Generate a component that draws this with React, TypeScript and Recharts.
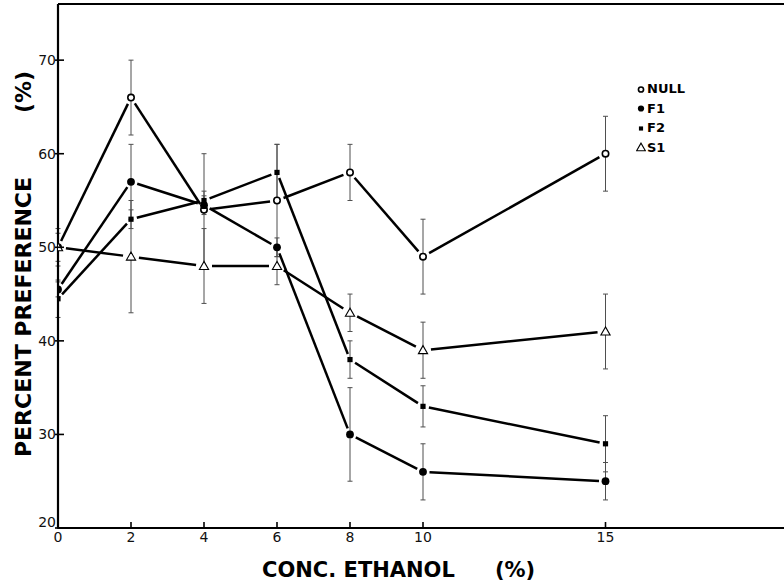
import React from 'react';
import { LineChart, Line, XAxis, YAxis, ErrorBar, Legend, Label } from 'recharts';

// ---- data ----
const conc = [0, 2, 4, 6, 8, 10, 15];
const nullVals = [50, 66, 54, 55, 58, 49, 60];
const nullErr = [2, 4, 6, 6, 3, 4, 4];
const f1Vals = [45.5, 57, 54.5, 50, 30, 26, 25];
const f1Err = [0.8, 4, 1, 1, 5, 3, 2];
const f2Vals = [44.5, 53, 55, 58, 38, 33, 29];
const f2Err = [2, 1, 1, 3, 2, 2.2, 3];
const s1Vals = [50, 49, 48, 48, 43, 39, 41];
const s1Err = [1.5, 6, 4, 2, 2, 3, 4];
const xTicks = [0, 2, 4, 6, 8, 10, 15];
const yTicks = [20, 30, 40, 50, 60, 70];
const seriesNames = ['NULL', 'F1', 'F2', 'S1'];

const data = conc.map((c, i) => ({
  x: c,
  nul: nullVals[i], nulE: nullErr[i],
  f1: f1Vals[i], f1E: f1Err[i],
  f2: f2Vals[i], f2E: f2Err[i],
  s1: s1Vals[i], s1E: s1Err[i],
}));

const FONT = '"DejaVu Sans", sans-serif';

type Shape = 'openCircle' | 'dot' | 'square' | 'triangle';
const series: { key: string; err: string; shape: Shape; name: string }[] = [
  { key: 'nul', err: 'nulE', shape: 'openCircle', name: seriesNames[0] },
  { key: 'f1', err: 'f1E', shape: 'dot', name: seriesNames[1] },
  { key: 'f2', err: 'f2E', shape: 'square', name: seriesNames[2] },
  { key: 's1', err: 's1E', shape: 'triangle', name: seriesNames[3] },
];

// gap left between a connecting line and the marker centre (old drafting style)
const GAP: Record<Shape, number> = { openCircle: 7, dot: 6.5, square: 6, triangle: 8 };

const Marker = ({ cx, cy, shape, scale = 1 }: any) => {
  if (cx == null || cy == null) return null;
  if (shape === 'openCircle')
    return <circle cx={cx} cy={cy} r={3.2 * scale} fill="#fff" stroke="#000" strokeWidth={1.6} />;
  if (shape === 'dot') return <circle cx={cx} cy={cy} r={3.9 * scale} fill="#000" />;
  if (shape === 'square') {
    const h = 2.6 * scale;
    return <rect x={cx - h} y={cy - h} width={2 * h} height={2 * h} fill="#000" />;
  }
  const s = 4.6 * scale;
  return (
    <polygon
      points={`${cx},${cy - s} ${cx - s},${cy + s * 0.75} ${cx + s},${cy + s * 0.75}`}
      fill="#fff"
      stroke="#000"
      strokeWidth={1.1}
    />
  );
};

// draws the connecting segment from the previous library-computed point to this one,
// stopped short of both markers
const Segment = ({ index, points, shape }: any) => {
  if (!points || !index) return null;
  const a = points[index - 1];
  const b = points[index];
  if (!a || !b || a.y == null || b.y == null) return null;
  const dx = b.x - a.x;
  const dy = b.y - a.y;
  const len = Math.hypot(dx, dy);
  const g = GAP[shape as Shape];
  if (len <= 2 * g) return null;
  const ux = dx / len;
  const uy = dy / len;
  return (
    <line
      x1={a.x + ux * g}
      y1={a.y + uy * g}
      x2={b.x - ux * g}
      y2={b.y - uy * g}
      stroke="#000"
      strokeWidth={2.5}
      strokeLinecap="butt"
    />
  );
};

const YTick = ({ x, y, payload }: any) => (
  <g>
    <line x1={x - 3} x2={x + 6} y1={y} y2={y} stroke="#000" strokeWidth={1.6} />
    <text
      x={x - 2}
      y={y}
      dy={payload.value === 20 ? -1 : 5}
      textAnchor="end"
      fontFamily={FONT}
      fontSize={14}
      fill="#111"
    >
      {payload.value}
    </text>
  </g>
);

const XTick = ({ x, y, payload }: any) => (
  <g>
    <line x1={x} x2={x} y1={y - 6} y2={y + 1} stroke="#000" strokeWidth={1.6} />
    <text x={x} y={y + 14} textAnchor="middle" fontFamily={FONT} fontSize={14} fill="#111">
      {payload.value}
    </text>
  </g>
);

const YTitle = () => (
  <g fontFamily={FONT} fontWeight="bold" fill="#000">
    <text x={31} y={317} transform="rotate(-90 31 317)" textAnchor="middle" fontSize={22}>
      PERCENT PREFERENCE
    </text>
    <text x={31} y={92} transform="rotate(-90 31 92)" textAnchor="middle" fontSize={22}>
      (%)
    </text>
  </g>
);

const XTitle = () => (
  <g fontFamily={FONT} fontWeight="bold" fill="#000">
    <text x={262} y={577} textAnchor="start" fontSize={21}>
      CONC. ETHANOL
    </text>
    <text x={515} y={577} textAnchor="middle" fontSize={21}>
      (%)
    </text>
  </g>
);

const LegendContent = () => (
  <div style={{ fontFamily: FONT, fontWeight: 'bold', fontSize: 13, color: '#000', lineHeight: '19.5px' }}>
    {series.map((s) => (
      <div key={s.name} style={{ display: 'flex', alignItems: 'center', whiteSpace: 'nowrap' }}>
        <svg width={10} height={12} style={{ marginRight: 1 }}>
          <Marker cx={5} cy={6.5} shape={s.shape} scale={s.shape === 'triangle' ? 0.95 : 0.8} />
        </svg>
        <span>{s.name}</span>
      </div>
    ))}
  </div>
);

export default function App() {
  return (
    <div style={{ position: 'absolute', left: 0, top: 0, width: 784, height: 584, overflow: 'hidden', background: '#fff' }}>
      <LineChart width={788} height={584} data={data} margin={{ top: 0, right: 0, bottom: 0, left: 0 }}>
        <XAxis
          dataKey="x"
          type="number"
          domain={[0, 20]}
          ticks={xTicks}
          height={56}
          tickSize={0}
          tickMargin={0}
          tickLine={false}
          tick={<XTick />}
          axisLine={{ stroke: '#000', strokeWidth: 2.2 }}
          allowDataOverflow
        >
          <Label content={<XTitle />} />
        </XAxis>
        <XAxis
          xAxisId="top"
          orientation="top"
          dataKey="x"
          type="number"
          domain={[0, 20]}
          height={4}
          tick={false}
          tickLine={false}
          axisLine={{ stroke: '#000', strokeWidth: 2.2 }}
        />
        <YAxis
          type="number"
          domain={[20, 76]}
          ticks={yTicks}
          width={58}
          tickSize={0}
          tickMargin={0}
          tickLine={false}
          tick={<YTick />}
          axisLine={{ stroke: '#000', strokeWidth: 2.2 }}
          allowDataOverflow
        >
          <Label content={<YTitle />} />
        </YAxis>
        <Legend
          layout="vertical"
          align="center"
          verticalAlign="middle"
          content={<LegendContent />}
          wrapperStyle={{ left: 636, top: 79, width: 80 }}
        />
        {series.map((s) => (
          <Line
            key={`c-${s.key}`}
            dataKey={s.key}
            stroke="none"
            dot={(p: any) => <Segment key={`c-${s.key}-${p.index}`} {...p} shape={s.shape} />}
            activeDot={false}
            isAnimationActive={false}
            legendType="none"
          />
        ))}
        {series.map((s) => (
          <Line
            key={`e-${s.key}`}
            dataKey={s.key}
            stroke="none"
            dot={false}
            activeDot={false}
            isAnimationActive={false}
            legendType="none"
          >
            <ErrorBar
              dataKey={s.err}
              direction="y"
              width={2.5}
              stroke="#4f4f4f"
              strokeWidth={1}
              isAnimationActive={false}
            />
          </Line>
        ))}
        {series.map((s) => (
          <Line
            key={`m-${s.key}`}
            dataKey={s.key}
            stroke="none"
            dot={(p: any) => <Marker key={`m-${s.key}-${p.index}`} {...p} shape={s.shape} />}
            activeDot={false}
            isAnimationActive={false}
            legendType="none"
          />
        ))}
      </LineChart>
    </div>
  );
}
